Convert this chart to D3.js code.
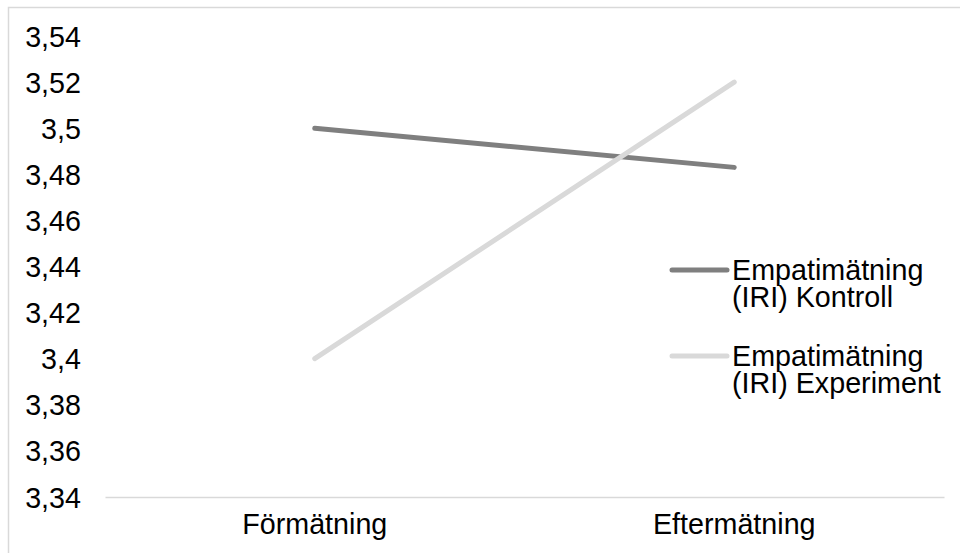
<!DOCTYPE html>
<html>
<head>
<meta charset="utf-8">
<script src="https://cdn.jsdelivr.net/npm/d3@7"></script>
<style>
  html, body { margin: 0; padding: 0; background: #fff; }
  svg { display: block; font-family: "Liberation Sans", Arial, Helvetica, sans-serif; }
</style>
</head>
<body>
<svg id="chart" width="960" height="553"></svg>
<script>
// Mätpunkter och serier
const categories = ["Förmätning", "Eftermätning"];
const kontroll = [3.50, 3.483];
const experiment = [3.40, 3.52];
const seriesNames = [["Empatimätning", "(IRI) Kontroll"], ["Empatimätning", "(IRI) Experiment"]];
const yTicks = [3.34, 3.36, 3.38, 3.40, 3.42, 3.44, 3.46, 3.48, 3.50, 3.52, 3.54];

const series = [
  { values: kontroll, name: seriesNames[0], color: "#7f7f7f" },
  { values: experiment, name: seriesNames[1], color: "#d9d9d9" }
];

const svg = d3.select("#chart");
const fontSize = 28.7;

// Ram runt diagramytan
svg.append("path")
  .attr("d", "M8.5,553 V7.5 H960")
  .attr("fill", "none")
  .attr("stroke", "#d9d9d9")
  .attr("stroke-width", 1.5);

const x = d3.scaleBand().domain(categories).range([105, 944]).padding(0);
const y = d3.scaleLinear().domain([3.34, 3.54]).range([497, 36]);

const fmt = v => d3.format(".2f")(v).replace(/0$/, "").replace(/\.0$/, "").replace(".", ",");

// Y-axelns etiketter
const yAxis = d3.axisLeft(y).tickValues(yTicks).tickSize(0).tickPadding(0).tickFormat(fmt);
const gy = svg.append("g").attr("transform", "translate(81,0)").call(yAxis);
gy.select(".domain").remove();
gy.selectAll("text")
  .attr("font-size", fontSize)
  .attr("font-family", null)
  .attr("fill", "#000")
  .attr("dy", "0.35em");

// X-axel med baslinje
const xAxis = d3.axisBottom(x).tickSize(0).tickPadding(0);
const gx = svg.append("g").attr("transform", `translate(0,${y(3.34)})`).call(xAxis);
gx.select(".domain").attr("stroke", "#d9d9d9").attr("stroke-width", 1.5);
gx.selectAll("text")
  .attr("font-size", fontSize)
  .attr("font-family", null)
  .attr("fill", "#000")
  .attr("y", 37)
  .attr("dy", 0);

// Linjer för båda grupperna
const line = d3.line()
  .x((d, i) => x(categories[i]) + x.bandwidth() / 2)
  .y(d => y(d));

svg.selectAll("path.series")
  .data(series)
  .join("path")
  .attr("class", "series")
  .attr("d", d => line(d.values))
  .attr("fill", "none")
  .attr("stroke", d => d.color)
  .attr("stroke-width", 5)
  .attr("stroke-linecap", "round");

// Förklaring
const legendY = [270, 356];
const lg = svg.selectAll("g.legend")
  .data(series)
  .join("g")
  .attr("class", "legend")
  .attr("transform", (d, i) => `translate(672,${legendY[i]})`);

lg.append("line")
  .attr("x1", 0).attr("x2", 55)
  .attr("y1", 0).attr("y2", 0)
  .attr("stroke", d => d.color)
  .attr("stroke-width", 5)
  .attr("stroke-linecap", "round");

lg.append("text")
  .attr("x", 60)
  .attr("font-size", fontSize)
  .attr("fill", "#000")
  .selectAll("tspan")
  .data(d => d.name)
  .join("tspan")
  .attr("x", 60)
  .attr("y", (t, j) => j * 27)
  .attr("dy", "0.35em")
  .text(t => t);
</script>
</body>
</html>
